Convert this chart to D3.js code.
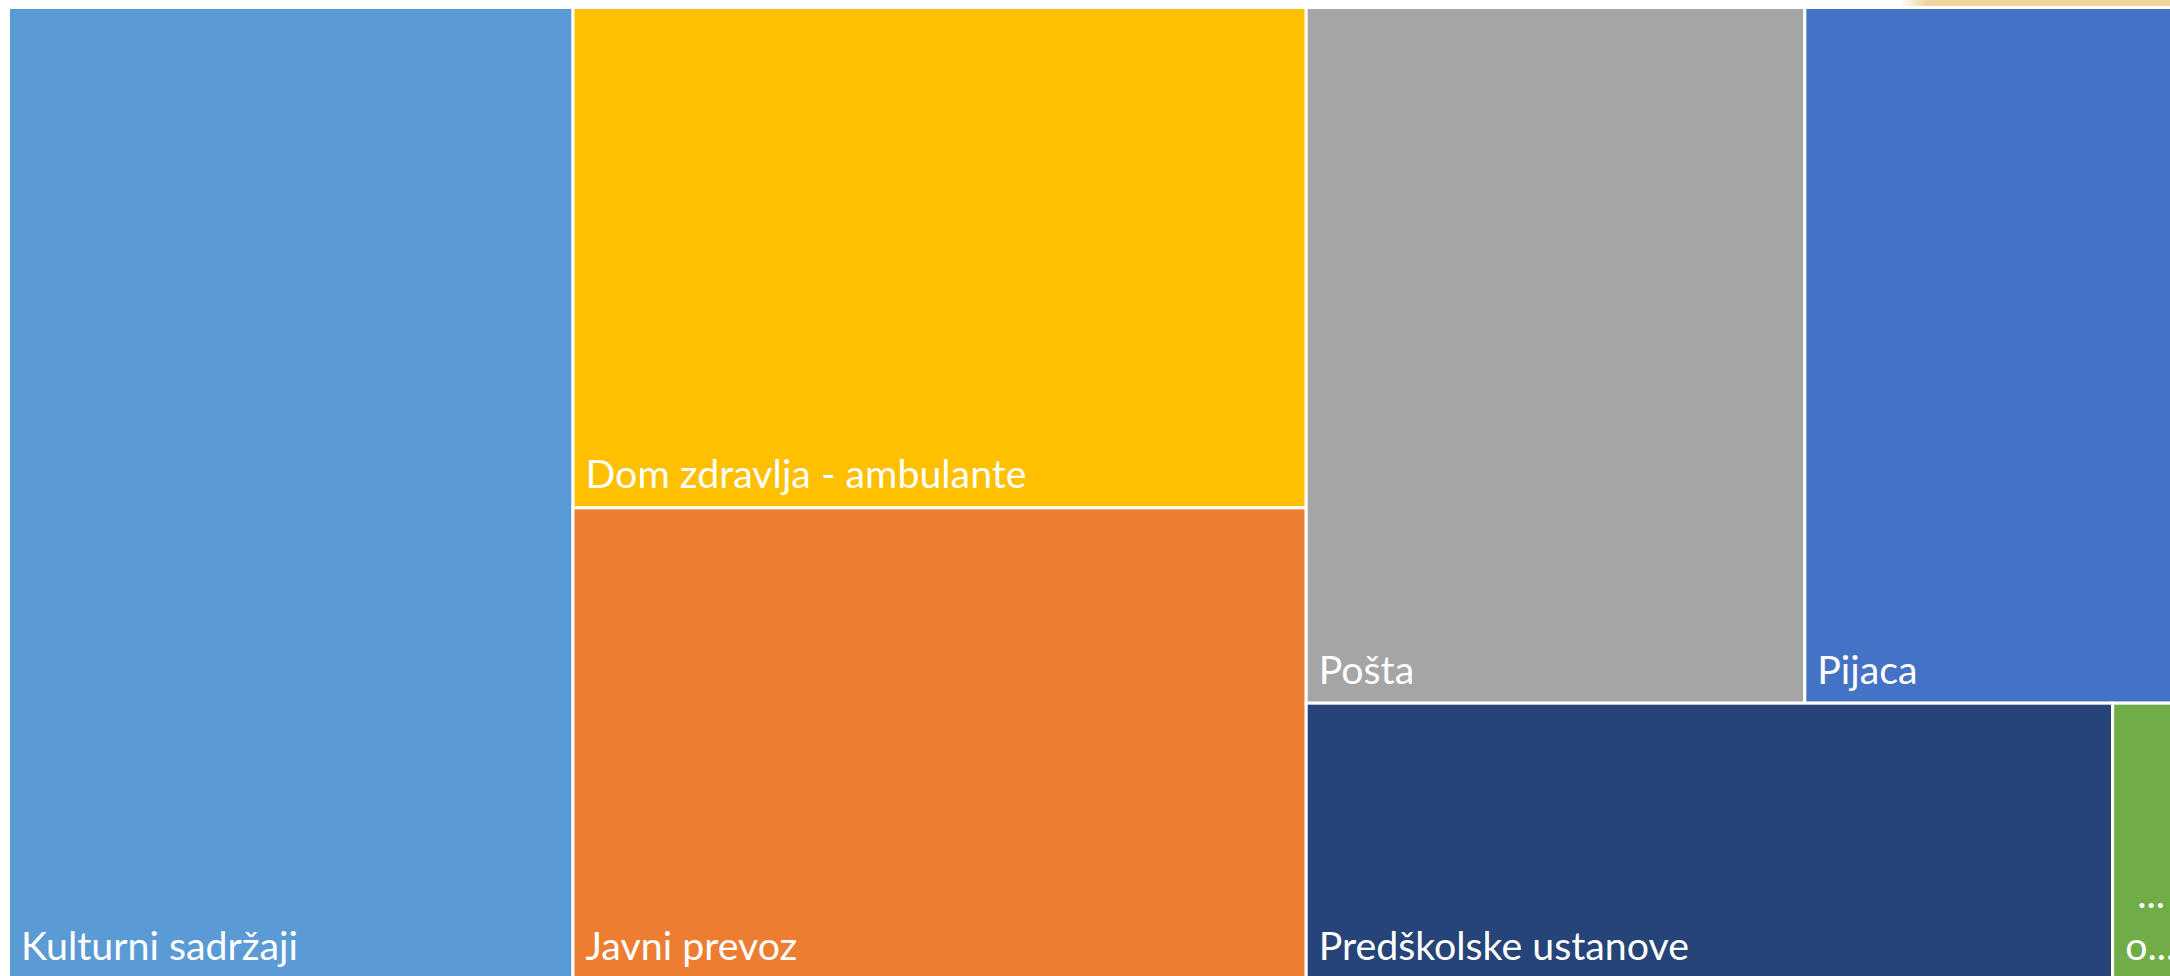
<!DOCTYPE html>
<html><head><meta charset="utf-8">
<script src="https://cdn.jsdelivr.net/npm/d3@7"></script>
<style>html,body{margin:0;padding:0;background:#fff;overflow:hidden}</style>
</head><body><svg id="chart" width="2170" height="976"></svg>
<script>
const categories = ["Kulturni sadržaji","Dom zdravlja - ambulante","Javni prevoz","Pošta","Pijaca","Predškolske ustanove","Ostalo"];
const values = [26.1, 17.45, 16.45, 16.5, 12.2, 10.6, 0.8];
const colors = ["#5B9BD5","#FFC000","#ED7D31","#A5A5A5","#4472C4","#264478","#70AD47"];
const labelLines = [["Kulturni sadržaji"],["Dom zdravlja - ambulante"],["Javni prevoz"],["Pošta"],["Pijaca"],["Predškolske ustanove"],["...","o..."]];

const svg = d3.select("#chart");
const defs = svg.append("defs");
const grad = defs.append("linearGradient").attr("id","tan").attr("x1","0").attr("x2","1").attr("y1","0").attr("y2","0");
grad.append("stop").attr("offset","0").attr("stop-color","#F0D49C").attr("stop-opacity",0);
grad.append("stop").attr("offset","0.1").attr("stop-color","#F0D49C").attr("stop-opacity",1);
grad.append("stop").attr("offset","1").attr("stop-color","#F0D49C").attr("stop-opacity",1);
svg.append("rect").attr("x",1900).attr("y",0).attr("width",270).attr("height",6).attr("fill","url(#tan)");

const X0 = 8.5, Y0 = 7.5, W = 2165, H = 972;
const root = d3.hierarchy({children: categories.map((c,i)=>({name:c, value:values[i], idx:i}))})
  .sum(d => d.value || 0);
d3.treemap().tile(d3.treemapSquarify.ratio(1)).size([W,H]).round(false)(root);

const g = svg.append("g").attr("transform",`translate(${X0},${Y0})`);
const cells = g.selectAll("g.cell").data(root.leaves()).join("g").attr("class","cell");
cells.append("rect")
  .attr("x", d=>d.x0).attr("y", d=>d.y0)
  .attr("width", d=>d.x1-d.x0).attr("height", d=>d.y1-d.y0)
  .attr("fill", d=>colors[d.data.idx])
  .attr("stroke","#fff").attr("stroke-width",3);
const fontSize = 39.3, lineH = 52;
cells.each(function(d){
  const lines = labelLines[d.data.idx];
  const t = d3.select(this).append("text")
    .attr("font-family","Lato, 'Open Sans', sans-serif")
    .attr("font-size",fontSize).attr("fill","#fff");
  lines.forEach((ln,k)=>{
    const fromBottom = lines.length-1-k;
    t.append("tspan")
      .attr("x", d.x0 + 1.5 + 11 + (lines.length>1 && k===0 ? 12 : 0))
      .attr("y", d.y1 - 1.5 - 18 - fromBottom*lineH)
      .text(ln);
  });
});
</script></body></html>
